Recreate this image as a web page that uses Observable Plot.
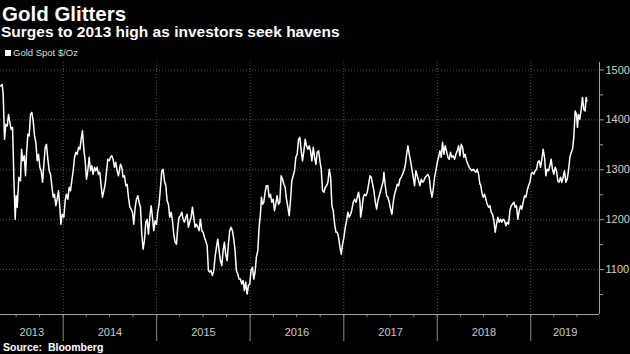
<!DOCTYPE html>
<html><head><meta charset="utf-8">
<script src="https://cdn.jsdelivr.net/npm/d3@7"></script>
<script src="https://cdn.jsdelivr.net/npm/@observablehq/plot@0.6"></script>
<style>
html,body{margin:0;padding:0;background:#000;}
#wrap{width:630px;height:354px;position:relative;overflow:hidden;background:#000;font-family:"Liberation Sans",Arial,sans-serif;}
#head{position:relative;height:58px;}
.title{position:absolute;left:2px;top:3.5px;font-size:20.5px;line-height:20.5px;font-weight:bold;color:#fff;white-space:nowrap;}
.sub{position:absolute;left:1px;top:23.5px;font-size:15.5px;line-height:15.5px;font-weight:bold;color:#fff;white-space:nowrap;}
.leg{position:absolute;left:5px;top:47px;font-size:9.5px;line-height:11px;color:#ddd;display:flex;align-items:center;white-space:nowrap;}
.sw{width:6px;height:6px;background:#fff;margin-right:2px;}
#chart svg{display:block;}
.src{position:relative;top:-1px;height:11px;font-size:10.5px;line-height:11px;font-weight:bold;color:#fff;padding-left:3px;white-space:nowrap;}
</style>
</head>
<body>
<div id="wrap">
  <div id="head">
    <div class="title">Gold Glitters</div>
    <div class="sub">Surges to 2013 high as investors seek havens</div>
    <div class="leg"><div class="sw"></div><span id="legtext"></span></div>
  </div>
  <div id="chart"></div>
  <div class="src">Source:&nbsp; Bloomberg</div>
</div>
<script>
const seriesName = "Gold Spot $/Oz";
const yearLabels = ["2013","2014","2015","2016","2017","2018","2019"];
const yTicks = [1100, 1200, 1300, 1400, 1500];
const yMinor = [1050, 1150, 1250, 1350, 1450];

// decimal-year time stamps
const time = [
2013.329,2013.347,2013.358,2013.372,2013.386,2013.401,2013.415,2013.429,2013.443,2013.458,
2013.472,2013.486,2013.497,2013.508,2013.525,2013.543,2013.554,2013.568,2013.583,2013.597,
2013.607,2013.622,2013.636,2013.650,2013.664,2013.679,2013.693,2013.707,2013.722,2013.736,
2013.750,2013.764,2013.779,2013.793,2013.807,2013.821,2013.836,2013.850,2013.864,2013.878,
2013.893,2013.907,2013.921,2013.935,2013.950,2013.964,2013.975,2013.989,2014.007,2014.021,
2014.035,2014.050,2014.064,2014.078,2014.092,2014.107,2014.121,2014.135,2014.149,2014.164,
2014.178,2014.192,2014.206,2014.221,2014.235,2014.249,2014.263,2014.278,2014.292,2014.306,
2014.320,2014.335,2014.349,2014.363,2014.378,2014.392,2014.406,2014.420,2014.435,2014.449,
2014.463,2014.477,2014.492,2014.506,2014.520,2014.534,2014.549,2014.563,2014.577,2014.591,
2014.606,
2014.613,2014.627,2014.641,2014.656,2014.670,2014.684,2014.698,2014.713,2014.727,2014.741,
2014.755,2014.770,2014.784,2014.798,2014.812,2014.827,2014.841,2014.855,2014.869,2014.884,
2014.898,2014.912,2014.927,2014.941,2014.955,2014.969,2014.984,2014.998,2015.012,2015.026,
2015.041,2015.055,2015.069,2015.083,2015.098,2015.112,2015.126,2015.140,2015.155,2015.169,
2015.183,2015.197,2015.212,2015.226,2015.240,2015.254,2015.269,2015.283,2015.297,2015.312,
2015.326,2015.340,2015.354,2015.369,2015.383,2015.397,2015.411,2015.426,2015.440,2015.454,
2015.468,2015.483,2015.497,2015.511,2015.525,2015.540,2015.554,2015.568,2015.582,2015.597,
2015.611,2015.625,2015.640,2015.654,2015.668,2015.682,2015.697,2015.711,2015.725,2015.739,
2015.754,2015.768,2015.782,2015.796,2015.811,2015.825,2015.839,2015.853,2015.868,2015.882,
2015.896,2015.911,2015.925,2015.939,2015.953,2015.968,2015.982,2015.996,2016.010,2016.025,
2016.039,2016.053,2016.067,2016.082,2016.096,2016.110,2016.121,2016.132,2016.146,2016.160,
2016.174,2016.189,2016.203,2016.217,2016.231,2016.246,2016.260,2016.274,2016.288,2016.303,
2016.317,2016.331,2016.346,2016.360,2016.374,2016.388,2016.403,2016.417,2016.431,2016.445,
2016.460,2016.474,2016.488,2016.502,2016.517,2016.531,2016.545,2016.559,2016.574,2016.588,
2016.602,2016.616,2016.631,2016.645,2016.659,2016.674,2016.688,2016.702,2016.716,2016.731,
2016.745,2016.759,2016.773,2016.788,2016.802,2016.816,2016.830,2016.845,2016.859,2016.873,
2016.887,2016.902,2016.916,2016.930,2016.944,2016.959,2016.973,2016.987,2017.001,2017.016,
2017.030,2017.044,2017.058,2017.073,2017.087,2017.101,2017.116,2017.130,2017.144,2017.158,
2017.173,
2017.180,2017.194,2017.208,2017.222,2017.237,2017.251,2017.265,2017.280,2017.294,2017.308,
2017.322,2017.337,2017.351,2017.365,2017.379,2017.394,2017.408,2017.422,2017.429,2017.444,
2017.458,2017.472,2017.486,2017.501,2017.515,2017.529,2017.543,2017.558,2017.572,2017.586,
2017.600,2017.615,2017.629,2017.643,2017.657,2017.672,2017.686,2017.700,2017.714,2017.729,
2017.743,2017.757,2017.771,2017.786,2017.800,2017.814,2017.829,2017.843,2017.857,2017.871,
2017.886,2017.900,2017.914,2017.928,2017.943,2017.957,2017.971,2017.985,2018.000,2018.014,
2018.028,2018.042,2018.057,2018.071,2018.085,2018.099,2018.114,2018.128,2018.142,2018.156,
2018.171,2018.185,2018.199,2018.214,2018.228,2018.242,2018.256,2018.271,2018.285,2018.299,
2018.313,2018.328,2018.342,2018.356,2018.370,2018.385,2018.399,2018.413,2018.427,2018.442,
2018.456,
2018.463,2018.477,2018.492,2018.506,2018.520,2018.534,2018.549,2018.563,2018.577,2018.591,
2018.606,2018.620,2018.634,2018.648,2018.663,2018.677,2018.691,2018.706,2018.720,2018.734,
2018.748,2018.763,2018.777,2018.791,2018.805,2018.820,2018.834,2018.848,2018.862,2018.877,
2018.891,2018.905,2018.919,2018.934,2018.948,2018.962,2018.976,2018.991,2019.005,2019.019,
2019.034,2019.048,2019.062,2019.076,2019.091,2019.105,2019.119,2019.133,2019.148,2019.162,
2019.176,2019.190,2019.205,2019.219,2019.233,2019.247,2019.262,2019.276,2019.290,2019.304,
2019.319,2019.333,2019.347,2019.361,2019.376,2019.390,2019.404,2019.419,2019.433,2019.447,
2019.461,2019.476,2019.490,2019.500,2019.511,2019.525,2019.540,2019.554,2019.568,2019.582,
2019.593,2019.600
];

// Gold spot price, $/oz
const gold = [
1468,1471,1451,1361,1391,1388,1411,1395,1381,1385,
1285,1201,1248,1225,1285,1278,1341,1318,1328,1288,
1331,1371,1368,1411,1415,1398,1368,1355,1318,1331,
1305,1298,1275,1311,1345,1351,1321,1298,1291,1268,
1245,1251,1228,1241,1258,1225,1191,1211,1205,1238,
1251,1241,1265,1258,1278,1298,1325,1335,1331,1345,
1341,1361,1378,1341,1318,1281,1298,1325,1298,1308,
1291,1305,1298,1305,1291,1295,1268,1245,1258,1271,
1295,1321,1318,1325,1328,1321,1305,1315,1298,1288,
1305,
1311,1305,1285,1288,1268,1271,1245,1225,1221,1215,
1191,1225,1241,1248,1235,1225,1171,1141,1158,1195,
1201,1171,1205,1228,1205,1178,1198,1191,1215,1231,
1265,1298,1301,1278,1268,1238,1231,1205,1215,1198,
1171,1155,1151,1185,1205,1208,1215,1201,1195,1205,
1211,1185,1195,1205,1225,1205,1185,1191,1185,1178,
1201,1178,1175,1165,1158,1148,1098,1095,1098,1088,
1098,1125,1145,1161,1138,1118,1108,1138,1155,1131,
1118,1151,1178,1185,1178,1161,1138,1098,1091,1081,
1081,1071,1078,1058,1075,1051,1068,1071,1098,1105,
1081,1095,1125,1138,1185,1211,1245,1231,1235,1255,
1268,1268,1245,1251,1235,1241,1218,1231,1248,1231,
1235,1288,1281,1271,1265,1241,1225,1208,1238,1278,
1288,1298,1325,1331,1361,1365,1338,1318,1338,1361,
1348,1341,1348,1338,1318,1345,1325,1311,1335,1338,
1318,1301,1258,1255,1265,1268,1275,1301,1285,1228,
1218,1191,1175,1175,1165,1145,1131,1151,1165,1185,
1198,1215,1205,1211,1221,1235,1241,1235,1245,1255,
1235,
1205,1221,1245,1251,1248,1255,1271,1288,1285,1271,
1258,1235,1221,1238,1248,1258,1268,1278,1295,1268,
1248,1245,1235,1221,1211,1235,1251,1261,1271,1268,
1281,1285,1291,1298,1308,1331,1348,1331,1318,1301,
1285,1268,1298,1288,1278,1268,1281,1275,1278,1285,
1288,1291,1285,1261,1245,1261,1285,1298,1315,1325,
1338,1325,1355,1331,1348,1338,1325,1321,1335,1325,
1328,1321,1331,1338,1348,1328,1351,1345,1325,1331,
1318,1311,1305,1301,1298,1301,1298,1295,1301,1291,
1271,
1271,1255,1245,1251,1241,1231,1225,1228,1215,1211,
1198,1175,1191,1205,1195,1201,1195,1201,1198,1188,
1195,1191,1218,1228,1231,1235,1225,1228,1201,1218,
1228,1221,1235,1248,1245,1258,1268,1275,1291,1295,
1291,1298,1301,1315,1318,1305,1321,1341,1325,1288,
1301,1298,1308,1321,1301,1291,1305,1298,1278,1275,
1285,1275,1285,1298,1275,1281,1298,1325,1335,1341,
1365,1418,1411,1385,1411,1401,1421,1445,1421,1418,
1445,1438
];

document.getElementById("legtext").textContent = seriesName;

const toDate = t => {
  const Y = Math.floor(t);
  const a = Date.UTC(Y, 0, 1), b = Date.UTC(Y + 1, 0, 1);
  return new Date(a + (t - Y) * (b - a));
};
const n = Math.min(time.length, gold.length);
const data = d3.range(n).map(i => ({date: toDate(time[i]), price: gold[i]}));

const xStart = toDate(2013.329), xEnd = toDate(2019.736);
const yDomain = [1010, 1515];
const yearStarts = yearLabels.slice(1).map(y => new Date(Date.UTC(+y, 0, 1)));
const labelPos = yearLabels.map(y => {
  const a = Math.max(Date.UTC(+y, 0, 1), +xStart);
  const b = Math.min(Date.UTC(+y + 1, 0, 1), +xEnd);
  return {date: new Date((a + b) / 2), label: y};
});
const quarters = d3.utcMonth.every(3).range(xStart, xEnd);

const chart = Plot.plot({
  width: 630, height: 285,
  marginTop: 4, marginBottom: 29, marginLeft: 0, marginRight: 31,
  style: {background: "#000", color: "#ccc", fontFamily: "'Liberation Sans', Arial, sans-serif", fontSize: "11px"},
  x: {type: "utc", domain: [xStart, xEnd], label: null},
  y: {domain: yDomain, label: null},
  marks: [
    Plot.ruleY(yTicks, {stroke: "#5a5a5a", strokeDasharray: "1,2"}),
    Plot.ruleX(yearStarts, {stroke: "#5a5a5a", strokeDasharray: "1,2"}),
    Plot.axisX(yearStarts, {tickSize: 27, tickFormat: () => "", stroke: "#8a8a8a", label: null}),
    Plot.axisX(quarters, {tickSize: 3, tickFormat: () => "", stroke: "#8a8a8a", label: null}),
    Plot.text(labelPos, {x: "date", text: "label", frameAnchor: "bottom", dy: 21, fill: "#c8c8c8", fontSize: 11}),
    Plot.ruleY([yDomain[0]], {stroke: "#a0a0a0"}),
    Plot.ruleX([xEnd], {stroke: "#a0a0a0"}),
    Plot.axisY(yTicks, {anchor: "right", tickSize: 4, tickPadding: 2, tickFormat: d => String(d), stroke: "#a0a0a0", fill: "#d0d0d0", label: null}),
    Plot.axisY(yMinor, {anchor: "right", tickSize: 3, tickFormat: () => "", stroke: "#a0a0a0", label: null}),
    Plot.line(data, {x: "date", y: "price", stroke: "#fff", strokeWidth: 1.5})
  ]
});
document.getElementById("chart").appendChild(chart);
</script>
</body></html>
